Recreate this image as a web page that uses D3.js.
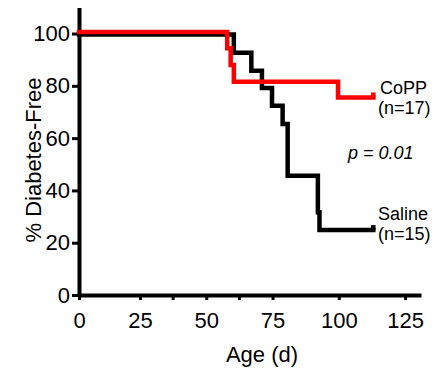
<!DOCTYPE html>
<html>
<head>
<meta charset="utf-8">
<script src="https://cdn.jsdelivr.net/npm/d3@7"></script>
<style>
  body { margin: 0; background: #fff; }
  text { font-family: "Liberation Sans", Arial, sans-serif; fill: #000; }
</style>
</head>
<body>
<script>
// Kaplan-Meier style step curves

var salineAge  = [0, 60.4, 67, 71, 74.8, 78.8, 80.7, 92.1, 92.7, 113];
var salineFree = [100, 93.0, 86.2, 79.6, 72.8, 65.8, 46.0, 32.0, 25.2, 25.2];

var coppAge  = [0, 57.9, 59.2, 60.4, 99.7, 113];
var coppFree = [100, 93.8, 87.4, 81.0, 75.0, 75.0];

var xTicks = [0, 25, 50, 75, 100, 125];
var xMinorTicks = [37.5, 62.5];
var yTicks = [0, 20, 40, 60, 80, 100];

var svgwidth = 442;
var svgheight = 373;

var svg = d3.select("body")
            .append("svg")
            .attr("width", svgwidth)
            .attr("height", svgheight);

// scales (first segment of the x axis is a bit shorter in the original)
var x = d3.scaleLinear()
        .domain([0, 25, 131])
        .range([79, 140, 421]);

var y = d3.scaleLinear()
        .domain([0, 110])
        .range([295, 7.4]);

//Axes
var bottomAxis = d3.axisBottom(x)
        .tickValues(xTicks)
        .tickSize(5)
        .tickSizeOuter(0)
        .tickPadding(12);

var leftAxis = d3.axisLeft(y)
        .tickValues(yTicks)
        .tickSize(7)
        .tickSizeOuter(0)
        .tickPadding(2);

var xAxisG = svg.append("g")
    .attr("transform", `translate(0, ${y(0)})`)
    .call(bottomAxis);

var yAxisG = svg.append("g")
    .attr("transform", `translate(${x(0)}, 0)`)
    .call(leftAxis);

[xAxisG, yAxisG].forEach(function(g) {
    g.select(".domain").attr("stroke", "#000").attr("stroke-width", 4);
    g.selectAll(".tick line").attr("stroke", "#000").attr("stroke-width", 3);
    g.selectAll(".tick text")
        .attr("font-size", "22px")
        .attr("font-family", "Liberation Sans, Arial, sans-serif")
        .attr("fill", "#000");
});

// minor ticks on the x axis
svg.append("g").selectAll("line")
    .data(xMinorTicks)
    .enter()
    .append("line")
    .attr("x1", d => x(d))
    .attr("x2", d => x(d))
    .attr("y1", y(0))
    .attr("y2", y(0) + 5)
    .attr("stroke", "#000")
    .attr("stroke-width", 3);

//Curves
var line = d3.line()
    .x(d => x(d.age))
    .y(d => y(d.free))
    .curve(d3.curveStepAfter);

var saline = salineAge.map((a, i) => ({age: a, free: salineFree[i]}));
var copp = coppAge.map((a, i) => ({age: a, free: coppFree[i]}));

function drawCurve(data, color, shift) {
    var g = svg.append("g").attr("transform", `translate(0, ${shift})`);
    g.append("path")
        .datum(data)
        .attr("d", line)
        .attr("fill", "none")
        .attr("stroke", color)
        .attr("stroke-width", 4.5)
        .attr("stroke-linejoin", "miter")
        .attr("stroke-linecap", "square");
    // censor tick at the end
    var last = data[data.length - 1];
    g.append("line")
        .attr("x1", x(last.age))
        .attr("x2", x(last.age))
        .attr("y1", y(last.free))
        .attr("y2", y(last.free) - 5)
        .attr("stroke", color)
        .attr("stroke-width", 4.5);
}

drawCurve(saline, "#000", 1);
drawCurve(copp, "#ff0000", -1.5);

//Labels
svg.append("text")
    .attr("x", 380).attr("y", 94)
    .attr("font-size", "18px")
    .text("CoPP");
svg.append("text")
    .attr("x", 378).attr("y", 114)
    .attr("font-size", "18px")
    .text("(n=17)");
svg.append("text")
    .attr("x", 348).attr("y", 159)
    .attr("font-size", "18px")
    .attr("font-style", "italic")
    .text("p = 0.01");
svg.append("text")
    .attr("x", 378).attr("y", 220)
    .attr("font-size", "18px")
    .text("Saline");
svg.append("text")
    .attr("x", 378).attr("y", 240)
    .attr("font-size", "18px")
    .text("(n=15)");

//Axis titles
svg.append("text")
    .attr("transform", "translate(41, 160) rotate(-90)")
    .attr("text-anchor", "middle")
    .attr("font-size", "22px")
    .text("% Diabetes-Free");

svg.append("text")
    .attr("x", 262).attr("y", 362)
    .attr("text-anchor", "middle")
    .attr("font-size", "22px")
    .text("Age (d)");
</script>
</body>
</html>
